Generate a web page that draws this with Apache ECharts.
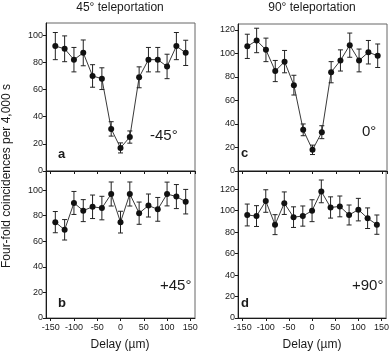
<!DOCTYPE html>
<html>
<head>
<meta charset="utf-8">
<script src="https://cdn.jsdelivr.net/npm/echarts@6/dist/echarts.min.js"></script>
<style>
  html, body { margin: 0; padding: 0; background: #fff; }
  #chart { width: 392px; height: 357px; }
</style>
</head>
<body>
<div id="chart"></div>
<script>
const delays = [-140, -120, -100, -80, -60, -40, -20, 0, 20, 40, 60, 80, 100, 120, 140];

// a: 45 deg teleportation, -45 deg analyser
const valsA = [92, 90, 82, 87, 70, 68, 31, 17, 25, 69, 82, 82, 77, 92, 87];
const errsA = [10, 9.5, 9, 9.5, 8.3, 8, 5.3, 3.7, 4.5, 7.7, 9, 9, 9, 10, 9.3];
// b: 45 deg teleportation, +45 deg
const valsB = [75, 69, 90, 84, 87, 86, 97, 75, 97, 82, 88, 85, 97, 95, 91];
const errsB = [8.3, 8, 9, 8.6, 9.2, 9.2, 9.4, 8.5, 9.4, 8.7, 9, 9.3, 9.3, 9.4, 9.6];
// c: 90 deg teleportation, 0 deg
const valsC = [106, 111, 103, 85, 93, 73, 35, 18, 33, 84, 94, 107, 94, 101, 98];
const errsC = [10.3, 10.4, 10, 9, 9.5, 8.4, 5, 4, 5.5, 9, 9, 10.3, 9.7, 10, 10];
// d: 90 deg teleportation, +90 deg
const valsD = [96, 95, 109, 87, 107, 94, 95, 100, 118, 103, 104, 96, 101, 93, 87];
const errsD = [10.2, 9.7, 10.5, 9.3, 10.5, 9.6, 9.4, 10.2, 10.6, 9.9, 9.7, 9.3, 10.5, 9.6, 9];

const yMax = [109, 115, 125, 137];
const titles = ['45° teleportation', '90° teleportation'];
const letters = ['a', 'b', 'c', 'd'];
const angles = ['-45°', '+45°', '0°', '+90°'];

const font = 'Liberation Sans, Arial, sans-serif';
const ink = '#1a1a1a';

const grids = [
    { left: 46, top: 23, width: 149, height: 148 },
    { left: 46, top: 171, width: 149, height: 147 },
    { left: 238, top: 24, width: 149, height: 147 },
    { left: 238, top: 171, width: 149, height: 147 }
];

function xAxisFor(i) {
    const bottom = (i === 1 || i === 3);
    return {
        type: 'value', gridIndex: i, min: -160, max: 160, splitNumber: 6,
        axisLine: { show: true, onZero: false, lineStyle: { color: ink, width: 1 } },
        axisTick: { show: true, length: 3, lineStyle: { color: ink } },
        axisLabel: { show: bottom, fontSize: 9, color: ink, fontFamily: font, margin: 5,
            showMinLabel: false, showMaxLabel: false },
        splitLine: { show: false }
    };
}
function yAxisFor(i) {
    return {
        type: 'value', gridIndex: i, min: 0, max: yMax[i], interval: 20,
        axisLine: { show: true, onZero: false, lineStyle: { color: ink, width: 1 } },
        axisTick: { show: true, length: 3, lineStyle: { color: ink } },
        axisLabel: { fontSize: 9, color: ink, fontFamily: font, margin: 3, showMaxLabel: false },
        splitLine: { show: false }
    };
}

function lineSeries(i, vals) {
    return {
        type: 'line', xAxisIndex: i, yAxisIndex: i,
        data: delays.map((d, k) => [d, vals[k]]),
        symbol: 'circle', symbolSize: 6,
        itemStyle: { color: '#111' },
        lineStyle: { color: '#222', width: 0.9 },
        z: 3, animation: false
    };
}
function errSeries(i, vals, errs) {
    return {
        type: 'custom', xAxisIndex: i, yAxisIndex: i,
        data: delays.map((d, k) => [d, vals[k] - errs[k], vals[k] + errs[k]]),
        renderItem: function (params, api) {
            const lo = api.coord([api.value(0), api.value(1)]);
            const hi = api.coord([api.value(0), api.value(2)]);
            const w = 2.5;
            const st = { stroke: '#222', lineWidth: 1 };
            return {
                type: 'group',
                children: [
                    { type: 'line', shape: { x1: hi[0], y1: hi[1], x2: lo[0], y2: lo[1] }, style: st },
                    { type: 'line', shape: { x1: hi[0] - w, y1: hi[1], x2: hi[0] + w, y2: hi[1] }, style: st },
                    { type: 'line', shape: { x1: lo[0] - w, y1: lo[1], x2: lo[0] + w, y2: lo[1] }, style: st }
                ]
            };
        },
        z: 2, animation: false
    };
}

const gridOpts = grids.map(g => Object.assign({ show: true, borderColor: '#666', borderWidth: 1 }, g));

const letterPos = [[58, 148], [58, 297], [241, 147], [241, 297]];
const anglePos = [[150, 128], [160, 278], [362, 124], [352, 278]];

const graphics = [];
letters.forEach((t, i) => {
    graphics.push({ type: 'text', left: letterPos[i][0], top: letterPos[i][1],
        style: { text: t, font: 'bold 13px ' + font, fill: ink } });
    graphics.push({ type: 'text', left: anglePos[i][0], top: anglePos[i][1],
        style: { text: angles[i], font: '15px ' + font, fill: ink } });
});
graphics.push({ type: 'text', x: 7, y: 176, rotation: Math.PI / 2,
    style: { text: 'Four-fold coincidences per 4,000 s', font: '12px ' + font, fill: ink,
        align: 'center', verticalAlign: 'middle' } });
[120, 312].forEach((cx, i) => {
    graphics.push({ type: 'text', x: cx, y: 8,
        style: { text: titles[i], font: '12px ' + font, fill: ink, align: 'center', verticalAlign: 'middle' } });
    graphics.push({ type: 'text', x: cx, y: 345,
        style: { text: 'Delay (µm)', font: '12px ' + font, fill: ink, align: 'center', verticalAlign: 'middle' } });
});

const chart = echarts.init(document.getElementById('chart'), null, { renderer: 'canvas' });
chart.setOption({
    backgroundColor: '#fff',
    animation: false,
    grid: gridOpts,
    xAxis: [0, 1, 2, 3].map(xAxisFor),
    yAxis: [0, 1, 2, 3].map(yAxisFor),
    graphic: graphics,
    series: [
        errSeries(0, valsA, errsA), lineSeries(0, valsA),
        errSeries(1, valsB, errsB), lineSeries(1, valsB),
        errSeries(2, valsC, errsC), lineSeries(2, valsC),
        errSeries(3, valsD, errsD), lineSeries(3, valsD)
    ]
});
</script>
</body>
</html>
